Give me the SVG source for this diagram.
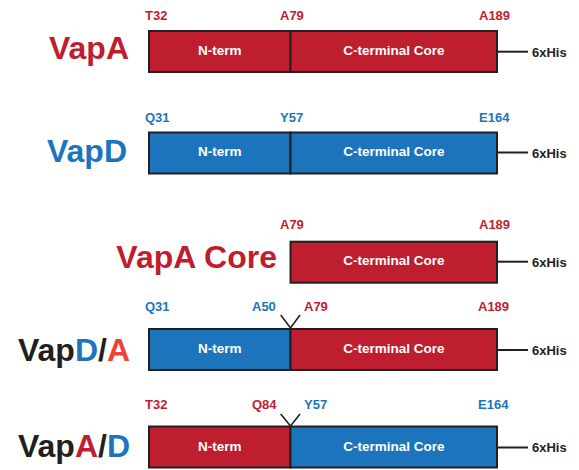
<svg xmlns="http://www.w3.org/2000/svg" width="579" height="470" viewBox="0 0 579 470">
<style>
text{font-family:"Liberation Sans",Arial,sans-serif;font-weight:bold}
.name{font-size:32px}
.lab{font-size:13px}
.in{font-size:13.5px;fill:#fff;text-anchor:middle}
.his{font-size:13px;fill:#231f20}
.r{fill:#be1e2d}
.b{fill:#1c75bc}
.o{fill:#ef4136}
.k{fill:#231f20}
.box{stroke:#231f20;stroke-width:2}
.tag{stroke:#231f20;stroke-width:2;fill:none}
.v{stroke:#231f20;stroke-width:1.6;fill:none}
</style>
<g id="connectors">
<line class="tag" x1="497" y1="51.7" x2="528" y2="51.7"/>
<line class="tag" x1="497" y1="152.5" x2="528" y2="152.5"/>
<line class="tag" x1="497" y1="261.7" x2="528" y2="261.7"/>
<line class="tag" x1="497" y1="350" x2="528" y2="350"/>
<line class="tag" x1="497" y1="447.5" x2="528" y2="447.5"/>
</g>
<g id="vapA">
<text class="name r" x="129" y="59" text-anchor="end">VapA</text>
<text class="lab r" x="145" y="20">T32</text>
<text class="lab r" x="280" y="20">A79</text>
<text class="lab r" x="479" y="20">A189</text>
<rect class="box r" x="149" y="31" width="141.5" height="41"/>
<rect class="box r" x="290.5" y="31" width="206.5" height="41"/>
<text class="in" x="219.7" y="54.5">N-term</text>
<text class="in" x="393.8" y="54.5">C-terminal Core</text>
<text class="his" x="532" y="57">6xHis</text>
</g>
<g id="vapD">
<text class="name b" x="127" y="161.7" text-anchor="end">VapD</text>
<text class="lab b" x="145" y="121.7">Q31</text>
<text class="lab b" x="280" y="121.7">Y57</text>
<text class="lab b" x="479" y="121.7">E164</text>
<rect class="box b" x="149" y="132.5" width="141.5" height="41"/>
<rect class="box b" x="290.5" y="132.5" width="206.5" height="41"/>
<text class="in" x="219.7" y="156">N-term</text>
<text class="in" x="393.8" y="156">C-terminal Core</text>
<text class="his" x="532" y="157.5">6xHis</text>
</g>
<g id="vapACore">
<text class="name r" x="277" y="268.3" text-anchor="end">VapA Core</text>
<text class="lab r" x="280" y="229.3">A79</text>
<text class="lab r" x="479" y="229.3">A189</text>
<rect class="box r" x="290.5" y="241.7" width="206.5" height="41"/>
<text class="in" x="393.8" y="265.2">C-terminal Core</text>
<text class="his" x="532" y="266.5">6xHis</text>
</g>
<g id="vapDA">
<text class="name k" x="130" y="360.7" text-anchor="end">Vap<tspan class="b">D</tspan>/<tspan class="o">A</tspan></text>
<text class="lab b" x="145" y="310.7">Q31</text>
<text class="lab b" x="252" y="310.7">A50</text>
<text class="lab r" x="304" y="310.7">A79</text>
<text class="lab r" x="478" y="310.7">A189</text>
<rect class="box b" x="149" y="329" width="141.5" height="41"/>
<rect class="box r" x="290.5" y="329" width="206.5" height="41"/>
<polyline class="v" points="280.7,315 290.5,328 300,315"/>
<text class="in" x="219.7" y="352.5">N-term</text>
<text class="in" x="393.8" y="352.5">C-terminal Core</text>
<text class="his" x="532" y="354.5">6xHis</text>
</g>
<g id="vapAD">
<text class="name k" x="130" y="457" text-anchor="end">Vap<tspan class="r">A</tspan>/<tspan class="b">D</tspan></text>
<text class="lab r" x="145" y="409">T32</text>
<text class="lab r" x="252" y="409">Q84</text>
<text class="lab b" x="304" y="409">Y57</text>
<text class="lab b" x="478" y="409">E164</text>
<rect class="box r" x="149" y="426.5" width="141.5" height="41"/>
<rect class="box b" x="290.5" y="426.5" width="206.5" height="41"/>
<polyline class="v" points="280.7,414 290.5,426 300,414"/>
<text class="in" x="219.7" y="450.5">N-term</text>
<text class="in" x="393.8" y="450.5">C-terminal Core</text>
<text class="his" x="532" y="452">6xHis</text>
</g>
</svg>
